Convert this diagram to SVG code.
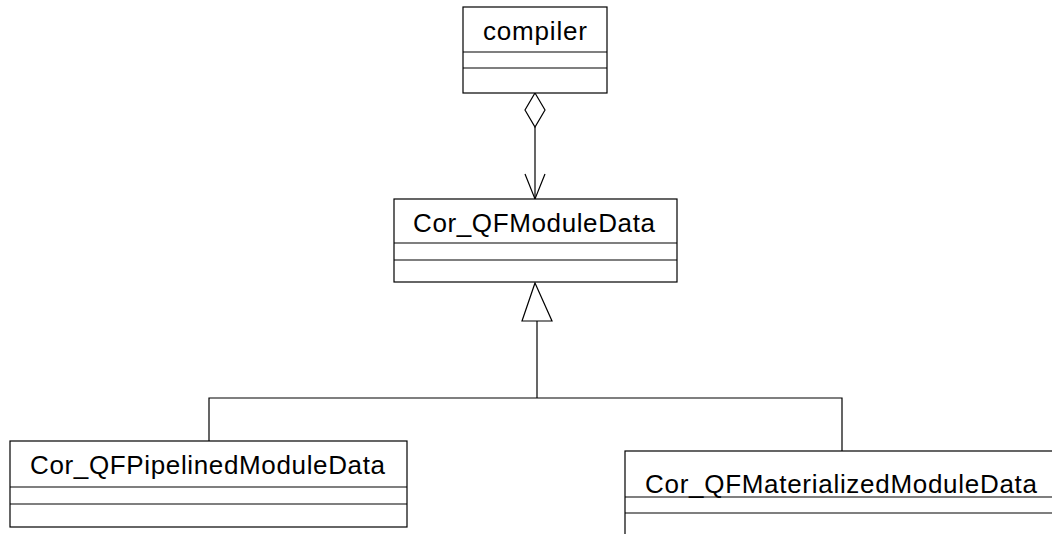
<svg xmlns="http://www.w3.org/2000/svg" width="1052" height="534" viewBox="0 0 1052 534">
  <style>
    .box { fill: #ffffff; stroke: #000000; stroke-width: 1.2; }
    .sep { stroke: #000000; stroke-width: 1.2; }
    .name { font-family: "Liberation Sans", Arial, sans-serif; font-size: 26px; fill: #000000; }
    .edge { fill: none; stroke: #000000; stroke-width: 1.2; }
    .head { fill: #ffffff; stroke: #000000; stroke-width: 1.2; }
  </style>
  <rect width="1052" height="534" fill="#ffffff"/>

  <g id="connectors">
    <!-- aggregation: compiler holds Cor_QFModuleData -->
    <line class="edge" x1="535" y1="127" x2="535" y2="199"/>
    <polygon class="head" points="535,93 545,110 535,127 525,110"/>
    <polyline class="edge" points="525,174 535,199 545,174"/>
    <!-- generalization tree -->
    <line class="edge" x1="537" y1="321" x2="537" y2="398"/>
    <polyline class="edge" points="209,441 209,398 842,398 842,451"/>
    <polygon class="head" points="535,283 552,321 522,321"/>
  </g>

  <g id="compiler">
    <rect class="box" x="463" y="7" width="144" height="86"/>
    <line class="sep" x1="463" y1="52" x2="607" y2="52"/>
    <line class="sep" x1="463" y1="68" x2="607" y2="68"/>
    <text class="name" x="483" y="40" textLength="104" lengthAdjust="spacing">compiler</text>
  </g>

  <g id="Cor_QFModuleData">
    <rect class="box" x="394" y="199" width="283" height="83"/>
    <line class="sep" x1="394" y1="243" x2="677" y2="243"/>
    <line class="sep" x1="394" y1="260" x2="677" y2="260"/>
    <text class="name" x="413" y="232" textLength="242" lengthAdjust="spacing">Cor_QFModuleData</text>
  </g>

  <g id="Cor_QFPipelinedModuleData">
    <rect class="box" x="10" y="441" width="397" height="86"/>
    <line class="sep" x1="10" y1="487" x2="407" y2="487"/>
    <line class="sep" x1="10" y1="504" x2="407" y2="504"/>
    <text class="name" x="30" y="474" textLength="355" lengthAdjust="spacing">Cor_QFPipelinedModuleData</text>
  </g>

  <g id="Cor_QFMaterializedModuleData">
    <rect class="box" x="625" y="451" width="440" height="100"/>
    <line class="sep" x1="625" y1="497" x2="1052" y2="497"/>
    <line class="sep" x1="625" y1="513" x2="1052" y2="513"/>
    <text class="name" x="645" y="493" textLength="392" lengthAdjust="spacing">Cor_QFMaterializedModuleData</text>
  </g>
</svg>
